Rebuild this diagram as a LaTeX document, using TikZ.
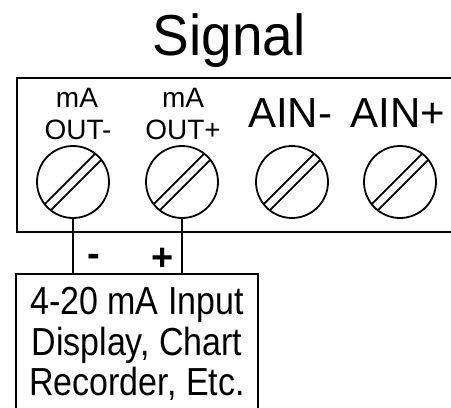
\documentclass[tikz,border=0pt]{standalone}
\usepackage{fontspec}
\setmainfont{Liberation Sans}
\usetikzlibrary{arrows}

\begin{document}
\begin{tikzpicture}[x=1pt, y=-1pt, line width=1.8pt,
    screw/.style={draw, circle, minimum size=72pt, inner sep=0pt, outer sep=0pt},
    lbl/.style={anchor=base, inner sep=0pt, font=\fontsize{28}{32}\selectfont},
    ain/.style={anchor=base, inner sep=0pt, font=\fontsize{42}{46}\selectfont},
    pol/.style={anchor=base, inner sep=0pt, font=\fontsize{38}{40}\selectfont\bfseries}]
    \useasboundingbox (0,0) rectangle (451,408);
    \clip (0,0) rectangle (451,408);

    \node[anchor=base, inner sep=0pt, font=\fontsize{55}{60}\selectfont] (title) at (229,55)
        {\scalebox{1}[1.05]{Signal}};

    % terminal block
    \coordinate (blkNW) at (17,78);
    \coordinate (blkSE) at (480,232);
    \draw (blkNW) rectangle (blkSE);

    \node[lbl] (ma1) at (77,107) {mA};
    \node[lbl] (out1) at (78,139) {OUT-};
    \node[lbl] (ma2) at (183,107) {mA};
    \node[lbl] (out2) at (183,139) {OUT+};
    \node[ain] (ainm) at (290,127) {AIN-};
    \node[ain] (ainp) at (398,127) {AIN+};

    \foreach \n/\x in {1/73,2/182,3/292,4/400}{
        \node[screw] (s\n) at (\x,182) {};
        \draw (s\n.52) -- (s\n.218);
        \draw (s\n.38) -- (s\n.232);
    }

    % receiving instrument
    \node[draw, outer sep=0pt, anchor=north, minimum width=242pt, inner xsep=0pt, inner ysep=13.6pt,
          font=\fontsize{34}{34}\selectfont] (disp) at (137,274)
          {\scalebox{1}[1.15]{\begin{tabular}{@{}c@{}}4-20 mA Input\\Display, Chart\\Recorder, Etc.\end{tabular}}};

    \draw (s1.south) -- (s1.south |- disp.north);
    \draw (s2.south) -- (s2.south |- disp.north);
    \node[pol] (neg) at (94,266.5) {-};
    \node[pol] (pos) at (163,270.5) {+};
\end{tikzpicture}
\end{document}
